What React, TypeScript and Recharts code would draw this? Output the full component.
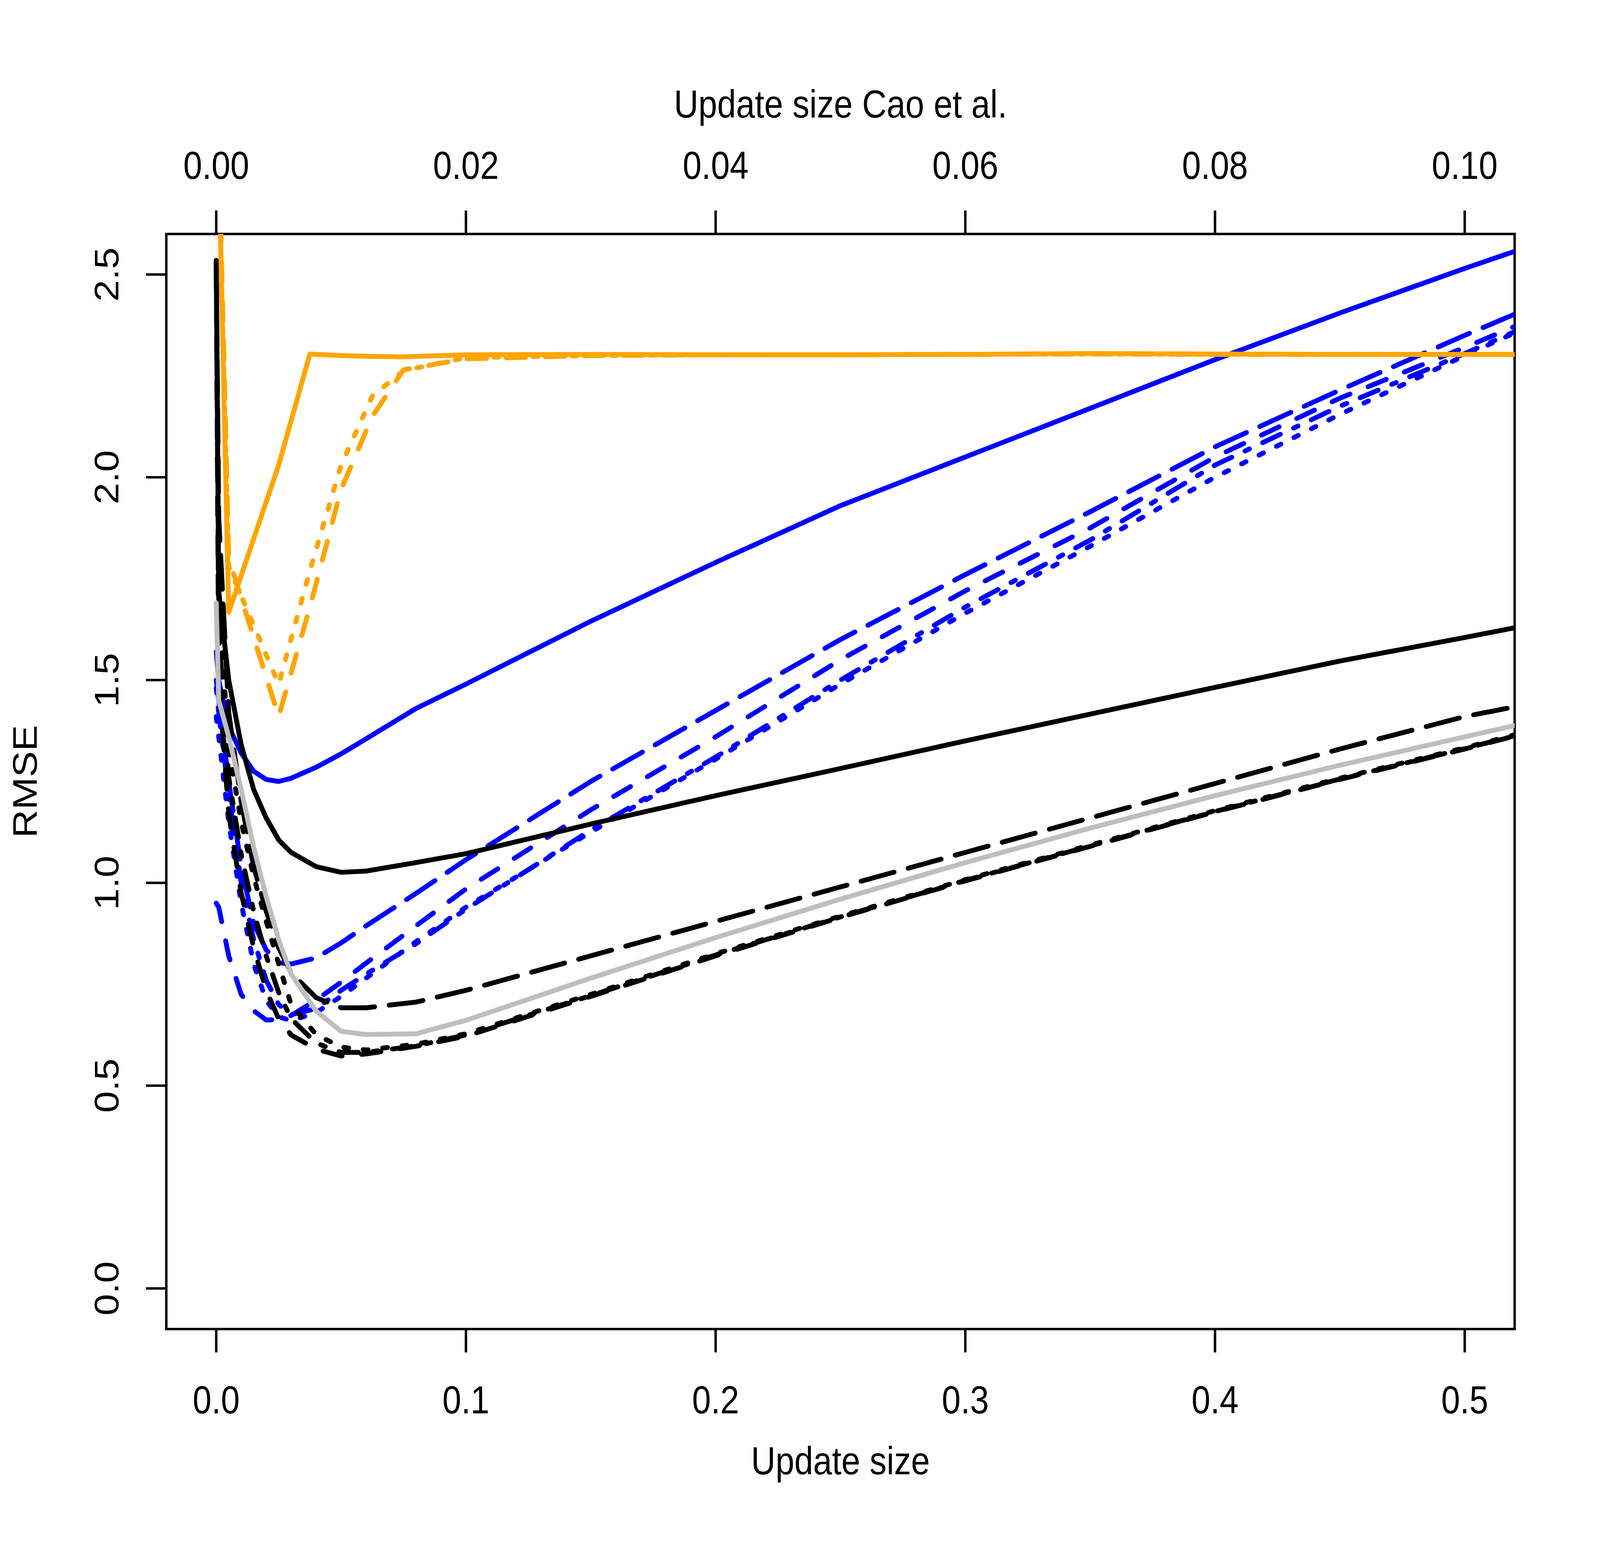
import { Line, LineChart, ReferenceArea, XAxis, YAxis } from 'recharts';

// update size (bottom axis) grid shared by the black, gray and blue runs
const UPDATE_SIZE = [0, 0.001, 0.005, 0.01, 0.015, 0.02, 0.025, 0.03, 0.04, 0.05, 0.06, 0.08, 0.1, 0.15, 0.2, 0.25, 0.3, 0.35, 0.4, 0.45, 0.5, 0.55];

const blackSolid = [2.535, 1.72, 1.5, 1.34, 1.23, 1.16, 1.106, 1.075, 1.04, 1.026, 1.029, 1.05, 1.072, 1.145, 1.215, 1.282, 1.35, 1.416, 1.482, 1.547, 1.605, 1.665];
const blackLongdash = [2.53, 1.9, 1.42, 1.2, 1.04, 0.93, 0.84, 0.778, 0.717, 0.692, 0.692, 0.706, 0.735, 0.82, 0.905, 0.99, 1.075, 1.16, 1.245, 1.33, 1.41, 1.47];
const blackDashed = [2.53, 1.5, 1.17, 0.975, 0.84, 0.735, 0.665, 0.625, 0.59, 0.573, 0.578, 0.597, 0.622, 0.72, 0.82, 0.915, 1.005, 1.09, 1.175, 1.255, 1.33, 1.41];
const blackDotted = [2.53, 1.7, 1.33, 1.15, 1.015, 0.905, 0.8, 0.7, 0.626, 0.595, 0.588, 0.602, 0.628, 0.725, 0.825, 0.918, 1.008, 1.093, 1.178, 1.258, 1.333, 1.413];
const blackDotdash = [2.53, 1.62, 1.26, 1.07, 0.93, 0.82, 0.73, 0.665, 0.605, 0.582, 0.582, 0.598, 0.625, 0.722, 0.822, 0.916, 1.006, 1.091, 1.176, 1.256, 1.331, 1.411];
const graySolid = [1.69, 1.45, 1.36, 1.23, 1.087, 0.966, 0.86, 0.775, 0.684, 0.634, 0.626, 0.628, 0.661, 0.765, 0.865, 0.96, 1.05, 1.135, 1.215, 1.29, 1.36, 1.43];

const blueSolid = [1.57, 1.5, 1.385, 1.32, 1.275, 1.255, 1.25, 1.258, 1.285, 1.318, 1.355, 1.43, 1.49, 1.645, 1.79, 1.93, 2.05, 2.17, 2.29, 2.405, 2.515, 2.62];
const blueLongdash = [1.5, 1.45, 1.25, 1.04, 0.9, 0.835, 0.803, 0.8, 0.815, 0.852, 0.894, 0.974, 1.057, 1.25, 1.425, 1.6, 1.76, 1.915, 2.075, 2.215, 2.35, 2.48];
const blueDashed = [0.95, 0.94, 0.82, 0.725, 0.685, 0.662, 0.663, 0.673, 0.711, 0.755, 0.802, 0.894, 0.985, 1.18, 1.36, 1.55, 1.72, 1.875, 2.05, 2.195, 2.32, 2.45];
const blueDotdash = [1.48, 1.42, 1.22, 1.0, 0.86, 0.76, 0.7, 0.675, 0.69, 0.735, 0.775, 0.85, 0.935, 1.13, 1.31, 1.5, 1.68, 1.845, 2.03, 2.175, 2.305, 2.44];
const blueDotted = [1.41, 1.36, 1.15, 0.95, 0.8, 0.71, 0.67, 0.66, 0.68, 0.72, 0.765, 0.855, 0.94, 1.125, 1.305, 1.49, 1.665, 1.83, 2.0, 2.155, 2.3, 2.44];

// Cao et al. update size (top axis) grid for the orange runs
const CAO_SIZE = [0.0002, 0.001, 0.005, 0.0075, 0.01, 0.0125, 0.015, 0.02, 0.03, 0.04, 0.05, 0.06, 0.07, 0.08, 0.09, 0.1, 0.11];
const orangeSolid = [2.79, 1.667, 2.03, 2.304, 2.3, 2.298, 2.297, 2.302, 2.303, 2.302, 2.302, 2.303, 2.305, 2.304, 2.303, 2.303, 2.303];
const orangeDotted = [2.75, 1.78, 1.49, 1.77, 2.03, 2.2, 2.263, 2.295, 2.3, 2.302, 2.302, 2.303, 2.304, 2.303, 2.303, 2.303, 2.303];
const orangeDashed = [2.82, 1.8, 1.41, 1.68, 1.97, 2.15, 2.265, 2.292, 2.3, 2.302, 2.302, 2.303, 2.304, 2.303, 2.303, 2.303, 2.303];

const BOTTOM_TICKS = [0, 0.1, 0.2, 0.3, 0.4, 0.5];
const TOP_TICKS = [0, 0.02, 0.04, 0.06, 0.08, 0.1];
const Y_TICKS = [0, 0.5, 1, 1.5, 2, 2.5];

const toRows = (xs: number[], ys: number[]) => xs.map((x, i) => ({ x, y: ys[i] }));

// R lty patterns at lwd 2 (unit 12.5px)
const LTY = {
  solid: undefined,
  dashed: '50 50',
  dotted: '12.5 37.5',
  dotdash: '12.5 37.5 50 37.5',
  longdash: '87.5 37.5',
};

const bottomSeries = [
  { key: 'blueSolid', ys: blueSolid, color: '#0000FF', lty: LTY.solid },
  { key: 'blueLongdash', ys: blueLongdash, color: '#0000FF', lty: LTY.longdash },
  { key: 'blueDashed', ys: blueDashed, color: '#0000FF', lty: LTY.dashed },
  { key: 'blueDotdash', ys: blueDotdash, color: '#0000FF', lty: LTY.dotdash },
  { key: 'blueDotted', ys: blueDotted, color: '#0000FF', lty: LTY.dotted },
  { key: 'blackSolid', ys: blackSolid, color: '#000000', lty: LTY.solid },
  { key: 'blackLongdash', ys: blackLongdash, color: '#000000', lty: LTY.longdash },
  { key: 'blackDashed', ys: blackDashed, color: '#000000', lty: LTY.dashed },
  { key: 'blackDotdash', ys: blackDotdash, color: '#000000', lty: LTY.dotdash },
  { key: 'blackDotted', ys: blackDotted, color: '#000000', lty: LTY.dotted },
  { key: 'graySolid', ys: graySolid, color: '#BEBEBE', lty: LTY.solid },
];

const topSeries = [
  { key: 'orangeDotted', ys: orangeDotted, color: '#FFA500', lty: LTY.dotted },
  { key: 'orangeDashed', ys: orangeDashed, color: '#FFA500', lty: LTY.dashed },
  { key: 'orangeSolid', ys: orangeSolid, color: '#FFA500', lty: LTY.solid },
];

const REF_W = 4724;
const H = 4015;
const FONT = "'Liberation Sans', Arial, Helvetica, sans-serif";

// the page may be narrower than the reference; squeeze horizontal layout to fit
const viewW = typeof window !== 'undefined'
  ? Math.min(window.innerWidth || REF_W, document.documentElement.clientWidth || REF_W)
  : REF_W;
const W = Math.min(REF_W, viewW);
const sx = W / REF_W;

const PLOT = { left: 491 * sx, top: 599, right: 4472 * sx, bottom: 3403 };
const midX = (PLOT.left + PLOT.right) / 2;
const midY = (PLOT.top + PLOT.bottom) / 2;
const yLabelX = PLOT.left - 141.5 * sx;
const yTitleX = 108.7 * sx;

// text squeezed by the same horizontal factor so proportions follow the reference
const Txt = ({ x, y, rotate = false, children }: any) => (
  <text
    x={0}
    y={0}
    transform={`translate(${x}, ${y}) scale(${sx}, 1)${rotate ? ' rotate(-90)' : ''}`}
    textAnchor="middle"
    fontSize={100}
    fontFamily={FONT}
    fill="#000"
  >
    {children}
  </text>
);

const BottomTick = ({ x, payload }: any) => <Txt x={x} y={PLOT.bottom + 216}>{Number(payload.value).toFixed(1)}</Txt>;

const TopTick = ({ x, payload }: any) => <Txt x={x} y={PLOT.top - 141}>{Number(payload.value).toFixed(2)}</Txt>;

const LeftTick = ({ y, payload }: any) => <Txt x={yLabelX} y={y} rotate>{Number(payload.value).toFixed(1)}</Txt>;

const TopTitle = () => <Txt x={midX} y={301}>Update size Cao et al.</Txt>;

const BottomTitle = () => <Txt x={midX} y={3775}>Update size</Txt>;

const LeftTitle = () => <Txt x={yTitleX} y={midY} rotate>RMSE</Txt>;

const tickLine = { stroke: '#000', strokeWidth: 6.25 };

export default function App() {
  return (
    <div style={{ position: 'absolute', left: 0, top: 0, width: W, height: H, background: '#fff', overflow: 'hidden' }}>
      <LineChart width={W} height={H} margin={{ top: 0, right: W - PLOT.right, bottom: 0, left: 0 }}>
        <XAxis
          xAxisId="bottom"
          orientation="bottom"
          type="number"
          dataKey="x"
          domain={[-0.02, 0.52]}
          allowDataOverflow
          ticks={BOTTOM_TICKS}
          interval={0}
          height={H - PLOT.bottom}
          tickSize={60}
          tickMargin={0}
          tickLine={tickLine}
          axisLine={false}
          tick={<BottomTick />}
          label={<BottomTitle />}
        />
        <XAxis
          xAxisId="top"
          orientation="top"
          type="number"
          dataKey="x"
          domain={[-0.004, 0.104]}
          allowDataOverflow
          ticks={TOP_TICKS}
          interval={0}
          height={PLOT.top}
          tickSize={60}
          tickMargin={0}
          tickLine={tickLine}
          axisLine={false}
          tick={<TopTick />}
          label={<TopTitle />}
        />
        <YAxis
          type="number"
          domain={[-0.1, 2.6]}
          allowDataOverflow
          ticks={Y_TICKS}
          interval={0}
          width={PLOT.left}
          tickSize={60 * sx}
          tickMargin={0}
          tickLine={tickLine}
          axisLine={false}
          tick={<LeftTick />}
          label={<LeftTitle />}
        />
        {bottomSeries.map((s) => (
          <Line
            key={s.key}
            xAxisId="bottom"
            data={toRows(UPDATE_SIZE, s.ys)}
            dataKey="y"
            type="linear"
            stroke={s.color}
            strokeWidth={12.5}
            strokeDasharray={s.lty}
            strokeLinecap="round"
            strokeLinejoin="round"
            dot={false}
            activeDot={false}
            isAnimationActive={false}
          />
        ))}
        {topSeries.map((s) => (
          <Line
            key={s.key}
            xAxisId="top"
            data={toRows(CAO_SIZE, s.ys)}
            dataKey="y"
            type="linear"
            stroke={s.color}
            strokeWidth={12.5}
            strokeDasharray={s.lty}
            strokeLinecap="round"
            strokeLinejoin="round"
            dot={false}
            activeDot={false}
            isAnimationActive={false}
          />
        ))}
        <ReferenceArea
          xAxisId="bottom"
          x1={-0.02}
          x2={0.52}
          y1={-0.1}
          y2={2.6}
          fill="none"
          fillOpacity={0}
          stroke="#000"
          strokeWidth={6.25}
          ifOverflow="visible"
        />
      </LineChart>
    </div>
  );
}
